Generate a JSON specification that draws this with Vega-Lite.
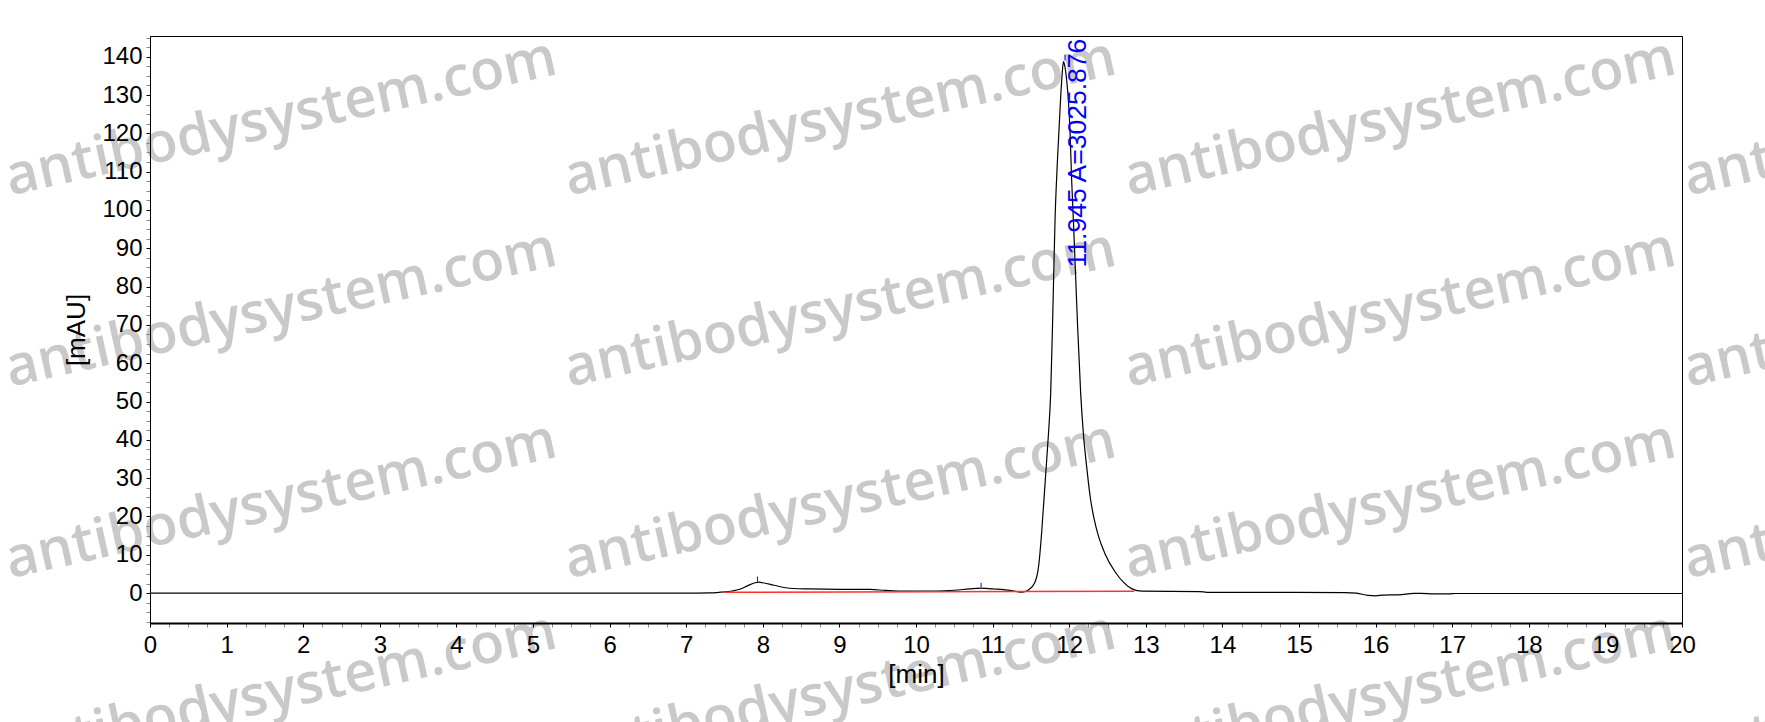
{
  "$schema": "https://vega.github.io/schema/vega-lite/v6.json",
  "width": 1532,
  "height": 587,
  "autosize": {"type": "none"},
  "padding": {"left": 150, "top": 36, "right": 83, "bottom": 99},
  "background": "white",
  "view": {"stroke": "black", "strokeWidth": 1},
  "config": {
    "font": "Liberation Sans",
    "axis": {
      "labelFont": "Liberation Sans",
      "titleFont": "Liberation Sans",
      "labelFontSize": 24,
      "titleFontSize": 26,
      "titleFontWeight": "normal",
      "labelColor": "black",
      "titleColor": "black",
      "domainColor": "black",
      "tickColor": "#444444",
      "tickSize": 4,
      "grid": false,
      "labelOverlap": false,
      "labelFlush": false,
      "zindex": 1
    }
  },
  "datasets": {
    "trace": [
      {"t": 0, "v": 0}, {"t": 7.0, "v": 0.02}, {"t": 7.3, "v": 0.08}, {"t": 7.4, "v": 0.15}, {"t": 7.5, "v": 0.3},
      {"t": 7.6, "v": 0.55}, {"t": 7.7, "v": 1.0}, {"t": 7.8, "v": 1.9}, {"t": 7.9, "v": 2.7}, {"t": 7.95, "v": 2.85},
      {"t": 8.0, "v": 2.7}, {"t": 8.1, "v": 2.3}, {"t": 8.2, "v": 1.8}, {"t": 8.3, "v": 1.4}, {"t": 8.4, "v": 1.2},
      {"t": 8.6, "v": 1.1}, {"t": 9.0, "v": 1.0}, {"t": 9.4, "v": 0.95}, {"t": 9.6, "v": 0.7}, {"t": 9.8, "v": 0.5},
      {"t": 10.2, "v": 0.55}, {"t": 10.5, "v": 0.75}, {"t": 10.7, "v": 1.1}, {"t": 10.85, "v": 1.3}, {"t": 11.0, "v": 1.1},
      {"t": 11.2, "v": 0.8}, {"t": 11.3, "v": 0.45}, {"t": 11.36, "v": 0.25}, {"t": 11.42, "v": 0.4}, {"t": 11.47, "v": 0.9},
      {"t": 11.55, "v": 2.7}, {"t": 11.6, "v": 6.9}, {"t": 11.64, "v": 15.7}, {"t": 11.67, "v": 24.3}, {"t": 11.7, "v": 33.0},
      {"t": 11.73, "v": 41.8}, {"t": 11.758, "v": 52.0}, {"t": 11.784, "v": 71.3}, {"t": 11.815, "v": 97.4}, {"t": 11.845, "v": 112.3},
      {"t": 11.889, "v": 129.6}, {"t": 11.91, "v": 136.0}, {"t": 11.925, "v": 138.7}, {"t": 11.94, "v": 137.8}, {"t": 11.967, "v": 133.9},
      {"t": 12.01, "v": 120.9}, {"t": 12.032, "v": 107.9}, {"t": 12.06, "v": 94.8}, {"t": 12.105, "v": 72.0}, {"t": 12.15, "v": 52.0},
      {"t": 12.185, "v": 41.7}, {"t": 12.228, "v": 33.0}, {"t": 12.28, "v": 24.3}, {"t": 12.324, "v": 19.5}, {"t": 12.38, "v": 15.0},
      {"t": 12.467, "v": 10.3}, {"t": 12.6, "v": 5.5}, {"t": 12.72, "v": 2.6}, {"t": 12.82, "v": 1.1}, {"t": 12.95, "v": 0.5},
      {"t": 13.7, "v": 0.4}, {"t": 13.8, "v": 0.2}, {"t": 15.6, "v": 0.15}, {"t": 15.75, "v": 0.0}, {"t": 15.9, "v": -0.6},
      {"t": 16.0, "v": -0.7}, {"t": 16.1, "v": -0.5}, {"t": 16.3, "v": -0.45}, {"t": 16.5, "v": -0.05}, {"t": 16.6, "v": -0.05},
      {"t": 16.75, "v": -0.2}, {"t": 16.95, "v": -0.2}, {"t": 17.05, "v": -0.1}, {"t": 20, "v": -0.1}
    ],
    "baseline": [
      {"t": 7.48, "v": 0.2}, {"t": 12.85, "v": 0.5}
    ],
    "peaks": [
      {"t": 7.93, "v": 3.0, "v2": 4.3},
      {"t": 10.85, "v": 1.6, "v2": 2.7},
      {"t": 11.945, "v": 139.0, "v2": 140.5}
    ],
    "label": [
      {"t": 11.945, "v": 85, "txt": "11.945 A=3025.876"}
    ],
    "watermark": [
      {"t": 1.71, "v": 124.0, "txt": "antibodysystem.com"}, {"t": 9.01, "v": 124.0, "txt": "antibodysystem.com"},
      {"t": 16.32, "v": 124.0, "txt": "antibodysystem.com"}, {"t": 23.62, "v": 124.0, "txt": "antibodysystem.com"},
      {"t": 1.71, "v": 74.1, "txt": "antibodysystem.com"}, {"t": 9.01, "v": 74.1, "txt": "antibodysystem.com"},
      {"t": 16.32, "v": 74.1, "txt": "antibodysystem.com"}, {"t": 23.62, "v": 74.1, "txt": "antibodysystem.com"},
      {"t": 1.71, "v": 24.1, "txt": "antibodysystem.com"}, {"t": 9.01, "v": 24.1, "txt": "antibodysystem.com"},
      {"t": 16.32, "v": 24.1, "txt": "antibodysystem.com"}, {"t": 23.62, "v": 24.1, "txt": "antibodysystem.com"},
      {"t": 1.71, "v": -25.8, "txt": "antibodysystem.com"}, {"t": 9.01, "v": -25.8, "txt": "antibodysystem.com"},
      {"t": 16.32, "v": -25.8, "txt": "antibodysystem.com"}, {"t": 23.62, "v": -25.8, "txt": "antibodysystem.com"}
    ]
  },
  "layer": [
    {
      "data": {"name": "watermark"},
      "mark": {"type": "text", "font": "Open Sans", "fontWeight": 600, "fontSize": 56, "color": "#c9c9c9", "angle": -12.5, "align": "center", "baseline": "middle", "clip": false},
      "encoding": {
        "x": {
          "field": "t", "type": "quantitative",
          "scale": {"domain": [0, 20], "nice": false, "zero": false},
          "axis": {
            "title": "[min]",
            "titlePadding": 4,
            "labelPadding": 6,
            "domainWidth": 2,
            "zindex": 1,
            "tickCount": 1000,
            "values": [0,0.25,0.5,0.75,1,1.25,1.5,1.75,2,2.25,2.5,2.75,3,3.25,3.5,3.75,4,4.25,4.5,4.75,5,5.25,5.5,5.75,6,6.25,6.5,6.75,7,7.25,7.5,7.75,8,8.25,8.5,8.75,9,9.25,9.5,9.75,10,10.25,10.5,10.75,11,11.25,11.5,11.75,12,12.25,12.5,12.75,13,13.25,13.5,13.75,14,14.25,14.5,14.75,15,15.25,15.5,15.75,16,16.25,16.5,16.75,17,17.25,17.5,17.75,18,18.25,18.5,18.75,19,19.25,19.5,19.75,20],
            "labelExpr": "datum.value % 1 === 0 ? format(datum.value, 'd') : ''",
            "tickColor": {"condition": {"test": "datum.value % 1 === 0", "value": "black"}, "value": "#888888"}
          }
        },
        "y": {
          "field": "v", "type": "quantitative",
          "scale": {"domain": [-7.8, 145.4], "nice": false, "zero": false},
          "axis": {
            "title": "[mAU]",
            "titlePadding": 12,
            "labelPadding": 4,
            "domainWidth": 1,
            "zindex": 1,
            "tickCount": 1000,
            "values": [-7.5,-5,-2.5,0,2.5,5,7.5,10,12.5,15,17.5,20,22.5,25,27.5,30,32.5,35,37.5,40,42.5,45,47.5,50,52.5,55,57.5,60,62.5,65,67.5,70,72.5,75,77.5,80,82.5,85,87.5,90,92.5,95,97.5,100,102.5,105,107.5,110,112.5,115,117.5,120,122.5,125,127.5,130,132.5,135,137.5,140,142.5,145],
            "labelExpr": "datum.value % 10 === 0 ? format(datum.value, 'd') : ''",
            "tickColor": {"condition": {"test": "datum.value % 10 === 0", "value": "black"}, "value": "#888888"}
          }
        },
        "text": {"field": "txt"}
      }
    },
    {
      "data": {"name": "trace"},
      "mark": {"type": "line", "color": "black", "strokeWidth": 1.2, "interpolate": "monotone"},
      "encoding": {
        "x": {"field": "t", "type": "quantitative", "scale": {"domain": [0, 20], "nice": false, "zero": false}},
        "y": {"field": "v", "type": "quantitative", "scale": {"domain": [-7.8, 145.4], "nice": false, "zero": false}}
      }
    },
    {
      "data": {"name": "baseline"},
      "mark": {"type": "line", "color": "#ff3030", "strokeWidth": 1.5},
      "encoding": {
        "x": {"field": "t", "type": "quantitative", "scale": {"domain": [0, 20], "nice": false, "zero": false}},
        "y": {"field": "v", "type": "quantitative", "scale": {"domain": [-7.8, 145.4], "nice": false, "zero": false}}
      }
    },
    {
      "data": {"name": "peaks"},
      "mark": {"type": "rule", "color": "blue", "strokeWidth": 1},
      "encoding": {
        "x": {"field": "t", "type": "quantitative", "scale": {"domain": [0, 20], "nice": false, "zero": false}},
        "y": {"field": "v", "type": "quantitative", "scale": {"domain": [-7.8, 145.4], "nice": false, "zero": false}},
        "y2": {"field": "v2"}
      }
    },
    {
      "data": {"name": "label"},
      "mark": {"type": "text", "color": "blue", "font": "Liberation Sans", "fontSize": 26.5, "angle": -90, "align": "left", "baseline": "top"},
      "encoding": {
        "x": {"field": "t", "type": "quantitative", "scale": {"domain": [0, 20], "nice": false, "zero": false}},
        "y": {"field": "v", "type": "quantitative", "scale": {"domain": [-7.8, 145.4], "nice": false, "zero": false}},
        "text": {"field": "txt"}
      }
    }
  ]
}
